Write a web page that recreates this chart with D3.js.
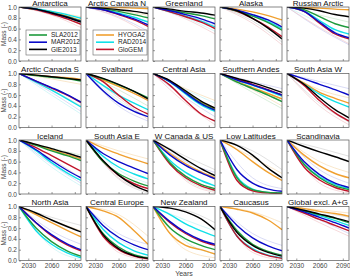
<!DOCTYPE html>
<html>
<head>
<meta charset="utf-8">
<script src="https://cdn.jsdelivr.net/npm/d3@7"></script>
<style>
  body { margin: 0; background: #fff; }
  svg { font-family: "Liberation Sans", Arial, sans-serif; }
</style>
</head>
<body>
<svg id="chart"></svg>
<script>
const years = [2018, 2040, 2060, 2080, 2098];

const models = ["SLA2012", "MAR2012", "GIE2013", "HYOGA2", "RAD2014", "GloGEM"];
const modelColors = ["#1e9a3c", "#0a0ac8", "#000000", "#f0a030", "#10e0e8", "#c0142a"];
const faintColors = ["#c8e6cc", "#c8ccf0", "#d4d4d4", "#f6dcb4", "#c4f2f4", "#f0c8cc"];

const regions = ["Antarctica", "Arctic Canada N", "Greenland", "Alaska", "Russian Arctic",
  "Arctic Canada S", "Svalbard", "Central Asia", "Southern Andes", "South Asia W",
  "Iceland", "South Asia E", "W Canada & US", "Low Latitudes", "Scandinavia",
  "North Asia", "Central Europe", "New Zealand", "Caucasus", "Global excl. A+G"];

// mass (-) per region, per model (order as in models), at the years above
const mass = [
  [[1,.96,.9,.82,.74],[1,.96,.89,.81,.73],[1,.96,.89,.81,.72],[1,.96,.9,.83,.75],[1,.97,.92,.86,.79],[1,.95,.87,.78,.68]],
  [[1,.97,.92,.86,.8],[1,.95,.87,.78,.67],[1,.98,.95,.92,.88],[1,.99,.99,.98,.97],[1,.96,.89,.81,.72],[1,.95,.86,.76,.64]],
  [[1,.94,.89,.84,.78],[1,.93,.86,.78,.69],[1,.96,.92,.89,.85],null,[1,.91,.83,.74,.63],[1,.91,.82,.72,.6]],
  [[1,.93,.83,.71,.57],[1,.94,.86,.76,.63],[1,.93,.79,.61,.41],[1,.96,.91,.84,.76],[1,.93,.84,.73,.6],[1,.92,.79,.63,.45]],
  [[1,.95,.82,.69,.62],[1,.92,.72,.52,.43],[1,.98,.93,.86,.82],[1,.99,.98,.96,.95],[1,.93,.75,.58,.5],[1,.92,.7,.5,.41]],
  [[1,.96,.93,.9,.86],[1,.86,.74,.61,.47],[1,.97,.94,.91,.88],[1,.97,.94,.92,.89],[1,.84,.69,.53,.38],[1,.86,.73,.6,.46]],
  [[1,.9,.79,.67,.55],[1,.68,.45,.3,.2],[1,.91,.8,.67,.53],[1,.88,.76,.63,.5],[1,.78,.6,.45,.33],[1,.85,.6,.38,.25]],
  [[1,.85,.65,.45,.33],[1,.85,.64,.44,.32],[1,.87,.68,.49,.36],[1,.86,.67,.47,.35],[1,.84,.62,.42,.3],[1,.78,.5,.25,.12]],
  [[1,.84,.72,.6,.48],[1,.88,.79,.69,.6],[1,.91,.83,.74,.65],[1,.85,.74,.63,.53],[1,.88,.78,.68,.58],[1,.9,.8,.7,.6]],
  [null,[1,.9,.8,.7,.6],[1,.8,.55,.33,.18],[1,.82,.65,.54,.45],[1,.8,.62,.48,.38],[1,.78,.5,.27,.12]],
  [[1,.9,.8,.71,.62],[1,.82,.62,.44,.3],[1,.92,.84,.76,.68],[1,.91,.82,.73,.65],[1,.8,.58,.39,.25],[1,.86,.71,.56,.42]],
  [[1,.6,.38,.24,.15],[1,.75,.6,.48,.38],[1,.62,.35,.16,.05],[1,.85,.74,.64,.56],[1,.7,.5,.37,.28],[1,.6,.35,.19,.1]],
  [[1,.58,.33,.18,.1],[1,.72,.53,.39,.28],[1,.82,.64,.47,.34],[1,.75,.56,.41,.3],[1,.62,.4,.25,.15],[1,.55,.3,.15,.07]],
  [[1,.3,.08,.03,.02],[1,.45,.2,.09,.05],[1,.9,.72,.48,.3],[1,.82,.6,.4,.25],[1,.32,.09,.03,.02],[1,.25,.06,.02,.01]],
  [[1,.55,.3,.15,.08],[1,.6,.36,.2,.12],[1,.88,.78,.69,.6],[1,.72,.52,.38,.3],[1,.55,.32,.18,.1],[1,.5,.26,.12,.05]],
  [[1,.6,.35,.18,.08],[1,.7,.48,.31,.2],[1,.88,.75,.63,.53],[1,.85,.7,.56,.44],[1,.55,.3,.14,.05],[1,.7,.46,.29,.18]],
  [[1,.5,.25,.11,.05],[1,.65,.43,.29,.2],[1,.48,.22,.09,.04],[1,.92,.8,.55,.3],[1,.58,.33,.18,.1],[1,.45,.2,.08,.03]],
  [[1,.6,.4,.28,.2],[1,.72,.52,.38,.3],[1,.97,.9,.77,.57],[1,.5,.28,.2,.12],[1,.85,.68,.55,.45],[1,.7,.5,.36,.28]],
  [[1,.55,.3,.17,.1],[1,.65,.42,.27,.18],[1,.52,.28,.15,.08],[1,.95,.88,.75,.57],[1,.45,.22,.1,.05],[1,.45,.2,.09,.04]],
  [[1,.92,.85,.78,.7],[1,.9,.8,.7,.6],[1,.93,.86,.79,.72],[1,.96,.91,.87,.82],[1,.91,.83,.74,.65],[1,.88,.76,.65,.55]]
];

// individual runs drawn faint: [model index, value 2060, value 2098]
const faint = [
  [[4,.9,.8],[5,.85,.62],[0,.88,.7],[3,.92,.82]],
  [[1,.82,.55],[5,.8,.5],[4,.88,.74],[3,.93,.85]],
  [[5,.78,.5],[4,.8,.55],[1,.85,.66],[2,.9,.8]],
  [[5,.7,.3],[3,.86,.68],[0,.78,.45],[2,.74,.35]],
  [[1,.6,.3],[5,.62,.32],[4,.7,.4],[0,.85,.72]],
  [[4,.6,.25],[1,.65,.3],[3,.9,.8],[5,.7,.4]],
  [[1,.4,.12],[4,.5,.2],[0,.7,.4],[5,.55,.15]],
  [[5,.45,.05],[1,.55,.2],[4,.7,.45],[3,.72,.5]],
  [[0,.65,.35],[3,.7,.4],[1,.85,.72],[5,.72,.48]],
  [[5,.4,.05],[2,.45,.1],[1,.85,.72],[3,.7,.55]],
  [[4,.5,.15],[1,.55,.2],[0,.85,.72],[5,.65,.3]],
  [[2,.28,.02],[5,.3,.05],[3,.8,.65],[4,.45,.2]],
  [[5,.25,.03],[0,.28,.05],[2,.7,.45],[1,.6,.4]],
  [[0,.05,.01],[2,.8,.45],[3,.68,.38],[1,.3,.1]],
  [[5,.2,.02],[3,.6,.4],[2,.85,.7],[1,.45,.2]],
  [[4,.25,.02],[3,.75,.55],[2,.8,.65],[1,.55,.3]],
  [[5,.15,.01],[3,.85,.45],[1,.5,.3],[4,.4,.15]],
  [[3,.2,.05],[2,.93,.7],[4,.75,.55],[0,.35,.12]],
  [[5,.15,.01],[3,.9,.7],[1,.5,.28],[4,.3,.1]],
  [[5,.7,.45],[3,.94,.88],[1,.75,.5],[2,.9,.8]]
];

const yTicks = [0, 0.2, 0.4, 0.6, 0.8, 1.0];
const xTicks = [2030, 2060, 2090];

const W = 350, H = 277;
const cfg = { left: 19, top: 7, pw: 62, ph: 54, dx: 67, dy: 66.5, cols: 5 };

const svg = d3.select("#chart").attr("width", W).attr("height", H);

const x = d3.scaleLinear().domain([2018, 2098]).range([0, cfg.pw]);
const y = d3.scaleLinear().domain([0, 1]).range([cfg.ph, 0]);

const line = d3.line()
  .x((d, i) => x(years[i]))
  .y(d => y(d))
  .curve(d3.curveMonotoneX);
const faintLine = d3.line()
  .x(d => x(d[0]))
  .y(d => y(d[1]))
  .curve(d3.curveMonotoneX);

const drawOrder = [3, 4, 5, 0, 1, 2];

regions.forEach((name, i) => {
  const c = i % cfg.cols, r = Math.floor(i / cfg.cols);
  const g = svg.append("g")
    .attr("transform", `translate(${cfg.left + c * cfg.dx},${cfg.top + r * cfg.dy})`);

  const clipId = "clip" + i;
  g.append("clipPath").attr("id", clipId)
    .append("rect").attr("width", cfg.pw).attr("height", cfg.ph);

  const plot = g.append("g").attr("clip-path", `url(#${clipId})`);

  faint[i].forEach(f => {
    plot.append("path")
      .attr("d", faintLine([[2018, 1], [2060, f[1]], [2098, f[2]]]))
      .attr("fill", "none")
      .attr("stroke", faintColors[f[0]])
      .attr("stroke-width", 0.7);
  });

  drawOrder.forEach(m => {
    const v = mass[i][m];
    if (!v) return;
    plot.append("path")
      .attr("d", line(v))
      .attr("fill", "none")
      .attr("stroke", modelColors[m])
      .attr("stroke-width", 1.4);
  });

  // axes
  const yAxis = d3.axisLeft(y).tickValues(yTicks).tickSize(-2).tickPadding(2)
    .tickFormat(c === 0 ? d3.format(".1f") : "");
  const xAxis = d3.axisBottom(x).tickValues(xTicks).tickSize(-2).tickPadding(3)
    .tickFormat(r === 3 ? d3.format("d") : "");
  const ya = g.append("g").call(yAxis);
  const xa = g.append("g").attr("transform", `translate(0,${cfg.ph})`).call(xAxis);
  [ya, xa].forEach(a => {
    a.select(".domain").remove();
    a.selectAll(".tick line").attr("stroke", "#555").attr("stroke-width", 0.6);
    a.selectAll(".tick text").attr("fill", "#444").style("font-size", "6.5px");
  });

  g.append("rect")
    .attr("width", cfg.pw).attr("height", cfg.ph)
    .attr("fill", "none").attr("stroke", "#555").attr("stroke-width", 0.7);

  g.append("text")
    .attr("x", cfg.pw / 2).attr("y", -1.5)
    .attr("text-anchor", "middle")
    .style("font-size", "8px").attr("fill", "#111")
    .text(name);

  if (c === 0) {
    g.append("text")
      .attr("transform", `translate(-12.8,${cfg.ph / 2}) rotate(-90)`)
      .attr("text-anchor", "middle")
      .style("font-size", "6.5px").attr("fill", "#444")
      .text("Mass (-)");
  }

  // legends in the first two panels
  if (i < 2) {
    const items = i === 0 ? [0, 1, 2] : [3, 4, 5];
    const lg = g.append("g").attr("transform", "translate(7,23)");
    lg.append("rect").attr("width", 54).attr("height", 25)
      .attr("fill", "#fff").attr("stroke", "#666").attr("stroke-width", 0.6);
    items.forEach((m, k) => {
      const yy = 5 + k * 7.2;
      lg.append("line").attr("x1", 3).attr("x2", 21).attr("y1", yy).attr("y2", yy)
        .attr("stroke", modelColors[m]).attr("stroke-width", 1.6);
      lg.append("text").attr("x", 25).attr("y", yy + 2.2)
        .style("font-size", "6.5px").attr("fill", "#222")
        .text(models[m]);
    });
  }
});

svg.append("text")
  .attr("x", cfg.left + 2 * cfg.dx + cfg.pw / 2).attr("y", 276)
  .attr("text-anchor", "middle")
  .style("font-size", "7px").attr("fill", "#444")
  .text("Years");
</script>
</body>
</html>
